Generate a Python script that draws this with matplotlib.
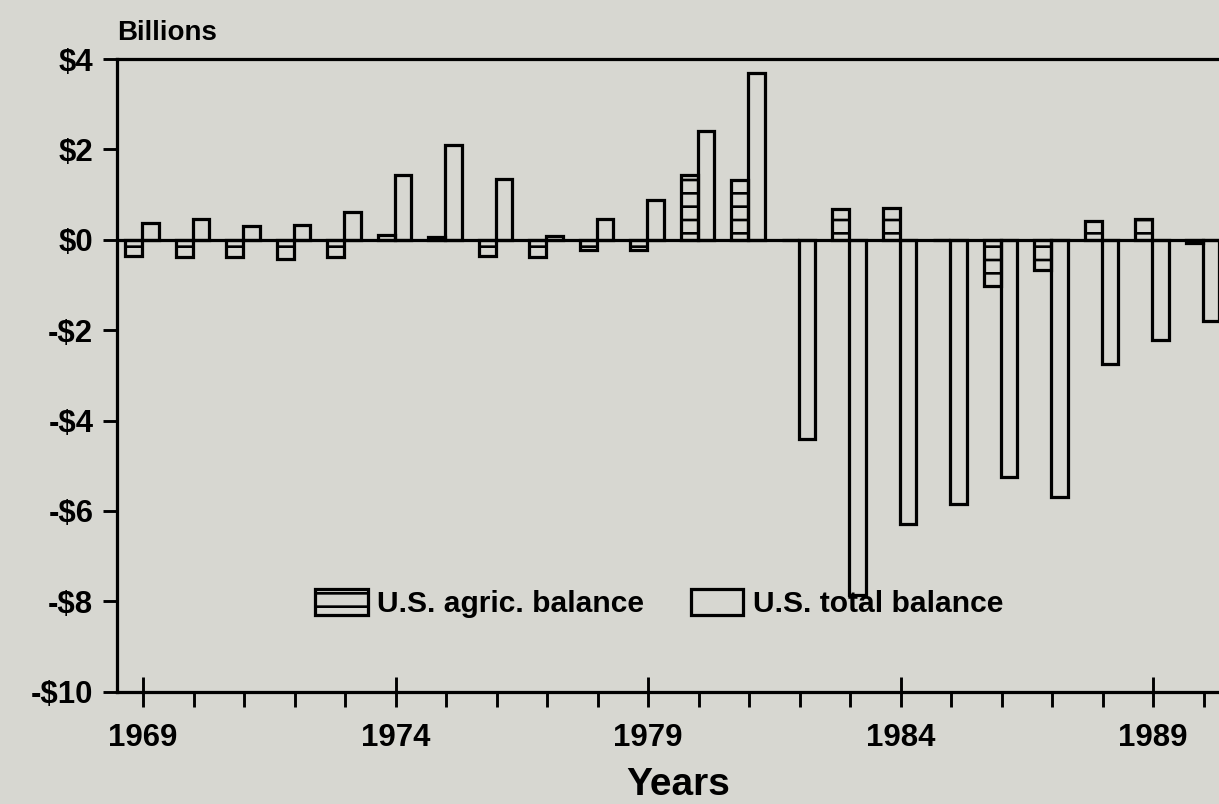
import numpy as np
import matplotlib
matplotlib.use("Agg")
import matplotlib.pyplot as plt
from matplotlib.ticker import FixedLocator, MultipleLocator

# 数据（十亿美元）
years = list(range(1969, 1991))
agric = [-0.36, -0.38, -0.38, -0.42, -0.39, 0.10, 0.07, -0.37, -0.38, -0.23, -0.23,
         1.44, 1.33, 0.0, 0.67, 0.71, 0.0, -1.02, -0.66, 0.42, 0.46, -0.08]
total = [0.38, 0.46, 0.31, 0.33, 0.61, 1.44, 2.09, 1.35, 0.08, 0.47, 0.89,
         2.41, 3.69, -4.41, -7.85, -6.28, -5.84, -5.25, -5.70, -2.75, -2.21, -1.80]

year_ticks = [1969, 1974, 1979, 1984, 1989]
year_labels = ["1969", "1974", "1979", "1984", "1989"]
y_ticks = [4, 2, 0, -2, -4, -6, -8, -10]
y_labels = ["$4", "$2", "$0", "-$2", "-$4", "-$6", "-$8", "-$10"]
series_names = ["U.S. agric. balance", "U.S. total balance"]

bg = "#d7d7d1"
lw = 2.9
plt.rcParams["font.family"] = ["Liberation Sans", "DejaVu Sans"]
plt.rcParams["font.weight"] = "bold"
plt.rcParams["hatch.linewidth"] = 2.4

fig = plt.figure(figsize=(1219 / 80, 804 / 80), dpi=80, facecolor=bg)
ax = fig.add_axes([117.3 / 1219, 112.3 / 804, (1239 - 117.3) / 1219, (745 - 112.3) / 804])
ax.set_facecolor(bg)

x = np.array(years, dtype=float)
w = 0.33
ax.bar(x - 0.185, agric, width=w, facecolor="none", edgecolor="black",
       linewidth=lw, hatch="-", label=series_names[0])
ax.bar(x + 0.145, total, width=w, facecolor="none", edgecolor="black",
       linewidth=lw, label=series_names[1])
ax.axhline(0, color="black", linewidth=lw)

ax.set_xlim(1968.49, 1990.70)
ax.set_ylim(-10, 4)

for s in ["left", "bottom", "top"]:
    ax.spines[s].set_linewidth(lw)
ax.spines["right"].set_visible(False)

ax.yaxis.set_major_locator(FixedLocator(y_ticks))
ax.set_yticklabels(y_labels)
ax.xaxis.set_major_locator(FixedLocator(year_ticks))
ax.set_xticklabels(year_labels)
ax.xaxis.set_minor_locator(MultipleLocator(1))

ax.tick_params(axis="y", direction="out", length=12.6, width=2.6, pad=9, labelsize=28)
ax.tick_params(axis="x", which="major", direction="inout", length=27, width=2.6, pad=15, labelsize=28)
ax.tick_params(axis="x", which="minor", direction="out", length=13.5, width=2.6)

ax.set_xlabel("Years", fontsize=35, fontweight="bold", labelpad=12)
ax.text(0, 1.02, "Billions", transform=ax.transAxes, fontsize=25, fontweight="bold",
        ha="left", va="bottom")

leg = ax.legend(loc="center left", bbox_to_anchor=(0.1763, 0.139), ncol=2, frameon=False,
                fontsize=27, handlelength=1.75, handleheight=0.95, handletextpad=0.33,
                columnspacing=1.55, borderpad=0, borderaxespad=0)

fig.savefig("out.png", dpi=80, facecolor=bg)
